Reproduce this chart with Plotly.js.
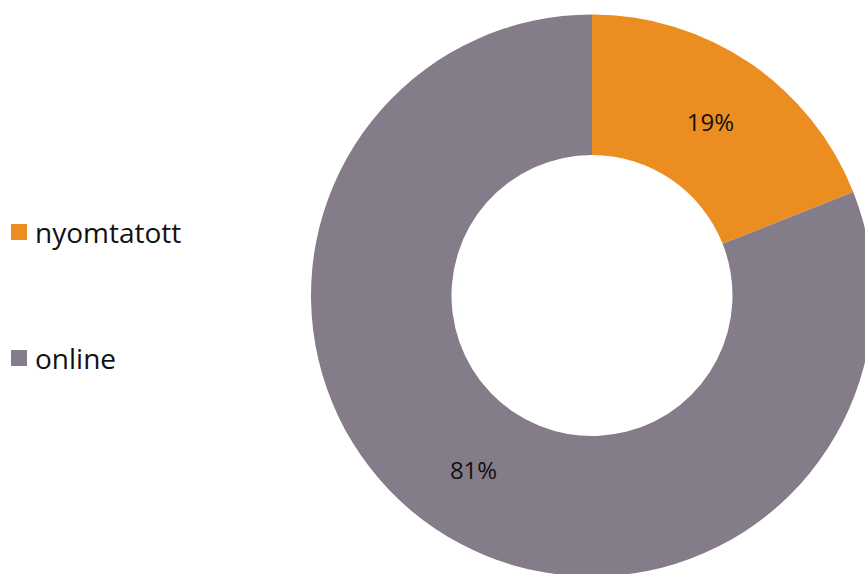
<!DOCTYPE html>
<html>
<head>
<meta charset="utf-8">
<script src="https://cdn.plot.ly/plotly-3.0.1.min.js"></script>
<style>
html,body{margin:0;padding:0;background:#fff;overflow:hidden;}
#chart{width:900px;height:600px;}
</style>
</head>
<body>
<div id="chart"></div>
<script>
const labels = ["nyomtatott", "online"];
const values = [19, 81];
const colors = ["#EC8D22", "#857C89"];

const W = 900, H = 600;
const px = x => x / W;
const py = y => 1 - y / H;

const legendY = [232, 358];
const shapes = labels.map((l, i) => ({
  type: "rect", xref: "paper", yref: "paper",
  x0: px(11), x1: px(27), y0: py(legendY[i] + 8), y1: py(legendY[i] - 8),
  fillcolor: colors[i], line: {width: 0}
}));
const annotations = labels.map((l, i) => ({
  xref: "paper", yref: "paper", x: px(33), y: py(legendY[i]),
  xanchor: "left", yanchor: "middle", showarrow: false,
  text: l, font: {family: "Open Sans, sans-serif", size: 28, color: "#111"}
}));

const trace = {
  type: "pie",
  labels: labels,
  values: values,
  hole: 0.5,
  sort: false,
  direction: "clockwise",
  rotation: 0,
  marker: {colors: colors, line: {width: 0}},
  textinfo: "percent",
  texttemplate: "%{percent:.0%}",
  textposition: "inside",
  insidetextorientation: "horizontal",
  textfont: {family: "Open Sans, sans-serif", size: 24, color: "#111"},
  domain: {x: [px(311), px(873)], y: [py(577), py(14)]},
  showlegend: false,
  hoverinfo: "label+percent"
};

Plotly.newPlot("chart", [trace], {
  width: W, height: H,
  margin: {l: 0, r: 0, t: 0, b: 0},
  paper_bgcolor: "#fff",
  showlegend: false,
  shapes: shapes,
  annotations: annotations
}, {displayModeBar: false, staticPlot: true});
</script>
</body>
</html>
